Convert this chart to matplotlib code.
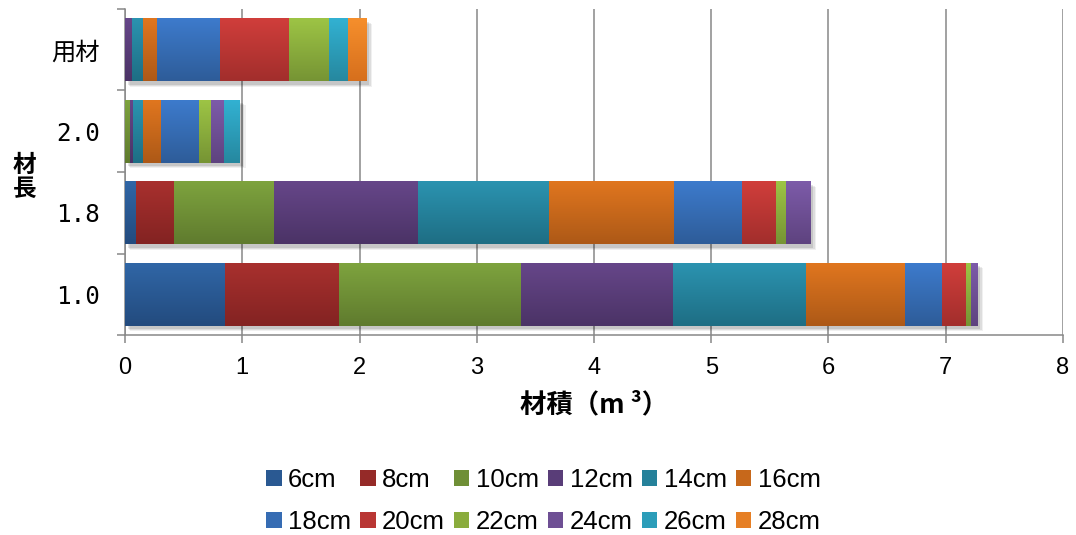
import numpy as np
import matplotlib
matplotlib.use("Agg")
import matplotlib.pyplot as plt
from matplotlib.colors import to_rgb
from matplotlib.patches import Rectangle

# 材長ごとの径級別材積 (m3)
categories = ["1.0", "1.8", "2.0", "用材"]
sizes = ["6cm", "8cm", "10cm", "12cm", "14cm", "16cm",
         "18cm", "20cm", "22cm", "24cm", "26cm", "28cm"]
len_10 = [0.855, 0.966, 1.557, 1.294, 1.139, 0.839, 0.317, 0.203, 0.045, 0.059, 0, 0]
len_18 = [0.097, 0.323, 0.850, 1.228, 1.122, 1.063, 0.580, 0.292, 0.085, 0.208, 0, 0]
len_20 = [0, 0, 0.045, 0.026, 0.079, 0.157, 0.326, 0, 0.100, 0.114, 0.136, 0]
youzai = [0, 0, 0, 0.056, 0.094, 0.120, 0.542, 0.586, 0.341, 0, 0.162, 0.159]

# 上端・下端のグラデーション色
top_colors = ["#3066A6", "#A8302E", "#7EA33E", "#664689", "#2B93B0", "#E0761F",
              "#3D7BCC", "#D03E3B", "#9DC445", "#7D5BA9", "#32B1D2", "#F68F2C"]
bottom_colors = ["#234B7E", "#832322", "#5F7B2E", "#4B3366", "#1E6E84", "#AD5917",
                 "#2E5C99", "#A22E2C", "#769434", "#5E437F", "#26889F", "#D66F1D"]

data = np.array([len_10, len_18, len_20, youzai])

fig = plt.figure(figsize=(10.76, 5.35), dpi=100)
ax = fig.add_axes([0.1162, 0.3738, 0.8717, 0.6094])

y = np.arange(len(categories))
h = 0.77
grid_c = "#888888"

# 影
totals = data.sum(axis=1)
for yi, tot in zip(y, totals):
    for k, a in enumerate([0.10, 0.08, 0.06]):
        d = 0.012 * (k + 1)
        ax.add_patch(Rectangle((0.01 + d, yi - h / 2 - 0.03 - d), tot, h,
                               facecolor="black", alpha=a, lw=0, zorder=2))

left = np.zeros(len(categories))
handles = []
for i, s in enumerate(sizes):
    t = np.array(to_rgb(top_colors[i]))
    b = np.array(to_rgb(bottom_colors[i]))
    mid = (t + b) / 2
    bars = ax.barh(y, data[:, i], left=left, height=h, color=mid,
                   lw=0, zorder=3, label=s)
    grad = np.linspace(0, 1, 64)[:, None, None] * (t - b) + b
    for rect in bars:
        w = rect.get_width()
        if w <= 0:
            continue
        x0, y0 = rect.get_x(), rect.get_y()
        ax.imshow(grad, extent=[x0, x0 + w, y0, y0 + h], origin="lower",
                  aspect="auto", interpolation="bilinear", zorder=4)
    handles.append(bars)
    left += data[:, i]

ax.set_xlim(0, 8)
ax.set_ylim(-0.5, 3.5)
ax.set_xticks(range(9))
ax.set_yticks(y)
ax.set_yticks(np.arange(-0.5, 4, 1), minor=True)
ax.set_yticklabels(categories, family=["DejaVu Sans Mono", "Noto Sans CJK JP"],
                   fontsize=17.5)
for lab in ax.get_xticklabels():
    lab.set_family("Liberation Sans")
    lab.set_fontsize(17)
ax.tick_params(axis="y", which="major", length=0, pad=18)
ax.tick_params(axis="y", which="minor", length=6, width=1.1, color=grid_c)
ax.tick_params(axis="x", length=6, width=1.1, color=grid_c, pad=10)
ax.grid(axis="x", color=grid_c, lw=1.1, zorder=1)
ax.set_axisbelow(True)
for side in ["top", "right"]:
    ax.spines[side].set_visible(False)
for side in ["left", "bottom"]:
    ax.spines[side].set_color(grid_c)
    ax.spines[side].set_linewidth(1.1)

ax.set_xlabel("材積（m ³）", family=["Noto Sans CJK JP"], fontsize=19,
              fontweight="bold", labelpad=9)
fig.text(0.023, 0.67, "材\n長", family=["Noto Sans CJK JP"], fontsize=17,
         fontweight="bold", ha="center", va="center", linespacing=1.0)

# 凡例は行方向に並べる
order = [0, 6, 1, 7, 2, 8, 3, 9, 4, 10, 5, 11]
leg = fig.legend([handles[k] for k in order], [sizes[k] for k in order],
                 ncol=6, loc="center", bbox_to_anchor=(0.505, 0.063),
                 frameon=False, prop={"family": "Liberation Sans", "size": 18.5},
                 handlelength=0.6, handleheight=0.6, handletextpad=0.25,
                 columnspacing=0.35, labelspacing=0.7)

fig.savefig("out.png", dpi=100)
